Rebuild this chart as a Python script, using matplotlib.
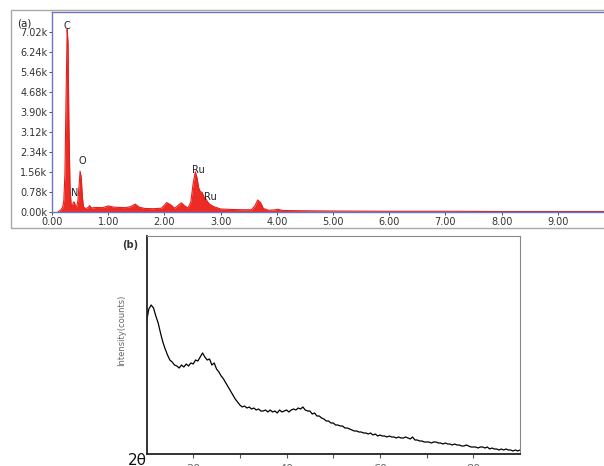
import matplotlib
matplotlib.use('Agg')
import matplotlib.pyplot as plt
from matplotlib.patches import Rectangle
import numpy as np

# (a) EDS spectrum outline: energy (keV) / counts
eds_energy = [0.10, 0.13, 0.16, 0.19, 0.21, 0.23, 0.25, 0.27, 0.285, 0.30, 0.32, 0.34,
              0.36, 0.38, 0.40, 0.42, 0.44, 0.46, 0.48, 0.50, 0.52, 0.54, 0.56, 0.60,
              0.64, 0.67, 0.70, 0.80, 0.90, 1.00, 1.10, 1.20, 1.30, 1.40, 1.48, 1.55,
              1.65, 1.80, 1.95, 2.04, 2.12, 2.18, 2.24, 2.30, 2.36, 2.42, 2.47, 2.51,
              2.55, 2.58, 2.61, 2.64, 2.67, 2.70, 2.74, 2.80, 2.88, 3.00, 3.20, 3.40,
              3.55, 3.61, 3.66, 3.71, 3.76, 3.85, 3.95, 4.02, 4.10, 4.50, 5.00, 6.00,
              7.00, 8.00, 9.00, 10.0]
eds_counts = [0, 50, 100, 200, 450, 1500, 4500, 7140, 6600, 3500, 1000, 300,
              220, 400, 380, 220, 220, 450, 1000, 1600, 1350, 600, 200, 150,
              180, 260, 170, 190, 180, 250, 200, 190, 180, 220, 320, 200,
              150, 140, 160, 380, 280, 160, 260, 370, 250, 170, 400, 1100,
              1580, 1350, 950, 800, 780, 620, 500, 320, 220, 130, 110, 100,
              100, 250, 480, 380, 150, 80, 90, 120, 70, 60, 50, 40,
              40, 30, 30, 30]
eds_peaks = ['C', 'N', 'O', 'Ru', 'Ru']
eds_peak_pos = [(0.27, 7270), (0.41, 750), (0.54, 2000), (2.61, 1650), (2.82, 600)]
eds_yticks = [0, 780, 1560, 2340, 3120, 3900, 4680, 5460, 6240, 7020]
eds_ylabels = ['0.00k', '0.78k', '1.56k', '2.34k', '3.12k', '3.90k', '4.68k', '5.46k', '6.24k', '7.02k']
eds_xticks = [0, 1, 2, 3, 4, 5, 6, 7, 8, 9]
eds_xlabels = ['0.00', '1.00', '2.00', '3.00', '4.00', '5.00', '6.00', '7.00', '8.00', '9.00']

# (b) XRD pattern, 2theta from 10 to 90 every 0.5 deg
xrd_2theta = np.arange(10, 90.01, 0.5)
xrd_intensity = [132, 145, 149, 146, 138, 131, 121, 112, 105, 99, 94, 92, 89, 88, 86, 89,
                 87, 90, 88, 91, 90, 94, 93, 97, 101, 97, 94, 95, 89, 91, 85, 82,
                 78, 75, 71, 67, 63, 59, 55, 52, 49, 47, 48, 46, 47, 45, 46, 44,
                 45, 43, 43, 44, 42, 44, 42, 43, 41, 44, 42, 43, 44, 42, 44, 45,
                 44, 46, 45, 47, 44, 43, 43, 40, 41, 38, 38, 36, 35, 33, 33, 31,
                 31, 29, 29, 28, 28, 26, 26, 25, 24, 23, 23, 22, 22, 21, 21, 20,
                 21, 19, 20, 18, 19, 18, 18, 17, 18, 17, 17, 16, 17, 16, 16, 17,
                 16, 15, 17, 14, 14, 13, 13, 12, 12, 12, 11, 12, 12, 11, 11, 10,
                 11, 10, 10, 9, 10, 9, 9, 8, 8, 9, 8, 7, 7, 7, 6, 7,
                 7, 6, 7, 5, 6, 5, 5, 4, 5, 4, 5, 4, 4, 3, 4, 3,
                 4]
xrd_xticks = [20, 40, 60, 80]
xrd_minor = [30, 50, 70]

W, H = 604, 466
fig = plt.figure(figsize=(W / 100, H / 100), dpi=100)


def fx(px):
    return px / W


def fy(py):
    return 1 - py / H


# ---- panel (a) ----
# grey outer frame
fig.patches.append(Rectangle((fx(11), fy(228)), fx(620 - 11), fy(10) - fy(228),
                             transform=fig.transFigure, fill=False, ec='#a8a8a8', lw=1))
ax1 = fig.add_axes([fx(52), fy(212.3), fx(56.2 * 10), fy(12.3) - fy(212.3)])
ax1.fill_between(eds_energy, eds_counts, color='#ee2a24', lw=0)
ax1.plot(eds_energy, eds_counts, color='#e3201c', lw=0.8)
ax1.set_xlim(0, 10)
ax1.set_ylim(0, 7800)
ax1.set_yticks(eds_yticks)
ax1.set_yticklabels(eds_ylabels)
ax1.set_xticks(eds_xticks)
ax1.set_xticklabels(eds_xlabels)
ax1.tick_params(labelsize=7, colors='#333333', length=2.5, width=0.6, pad=1)
for s in ax1.spines.values():
    s.set_color('#6b74c8')
    s.set_linewidth(1)
for lab, (e, c) in zip(eds_peaks, eds_peak_pos):
    ax1.text(e, c, lab, fontsize=7, ha='center', va='center', color='#222222')
fig.text(fx(24), fy(23), '(a)', fontsize=7.5, ha='center', va='center', color='#222222')

# ---- panel (b) ----
ax2 = fig.add_axes([fx(146.5), fy(454), fx(520 - 146.5), fy(236) - fy(454)])
ax2.plot(xrd_2theta, xrd_intensity, color='black', lw=0.9)
ax2.set_xlim(10, 90)
ax2.set_ylim(0, 218)
ax2.set_yticks([])
ax2.set_xticks(xrd_xticks)
ax2.set_xticks(xrd_minor, minor=True)
ax2.tick_params(axis='x', which='both', length=3, width=0.8, color='#555555',
                labelsize=8, labelcolor='#666666', pad=4)
ax2.spines['left'].set_color('#222222')
ax2.spines['bottom'].set_color('#222222')
ax2.spines['left'].set_linewidth(1.3)
ax2.spines['bottom'].set_linewidth(1.3)
ax2.spines['top'].set_color('#888888')
ax2.spines['right'].set_color('#888888')
ax2.spines['top'].set_linewidth(0.8)
ax2.spines['right'].set_linewidth(0.8)

fig.text(fx(122), fy(330), 'Intensity(counts)', rotation=90, fontsize=6,
         ha='center', va='center', color='#666666')
fig.text(fx(130), fy(245), '(b)', fontsize=7, ha='center', va='center',
         color='#333333', fontweight='bold')
fig.text(fx(128), fy(453), '2θ', fontsize=11, ha='left', va='top', color='#111111')

fig.savefig('out.png', dpi=100)
